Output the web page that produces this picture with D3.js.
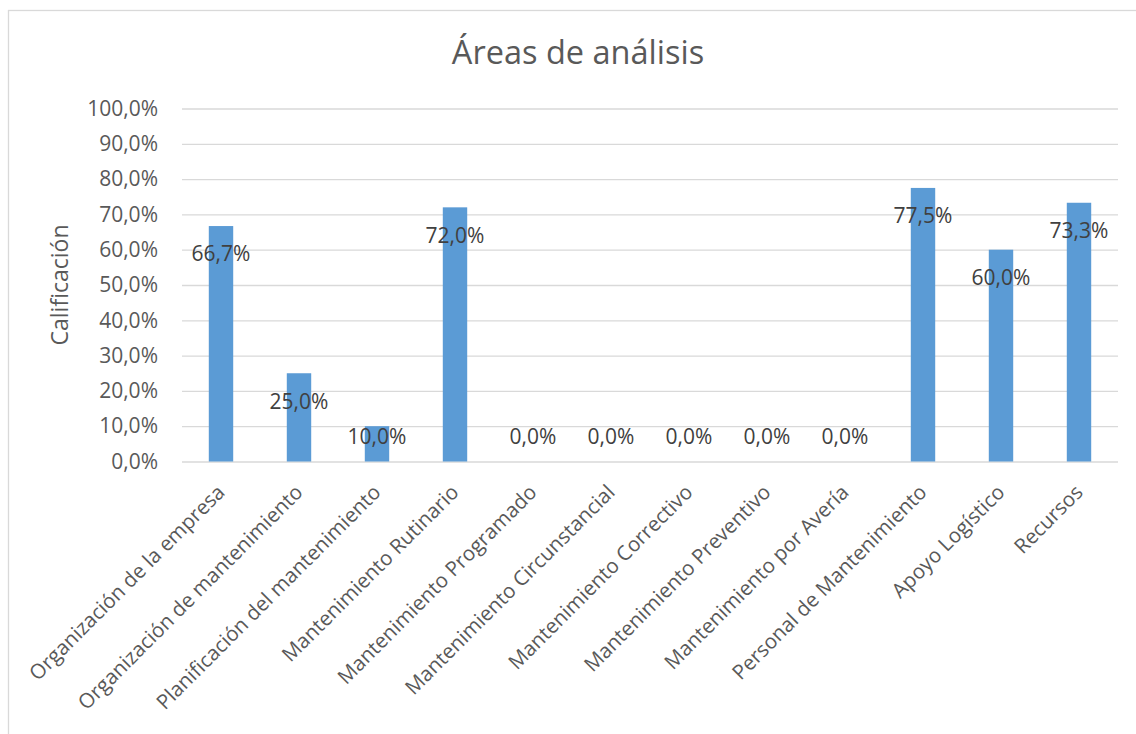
<!DOCTYPE html>
<html>
<head>
<meta charset="utf-8">
<script src="https://cdn.jsdelivr.net/npm/d3@7"></script>
<style>
  html, body { margin: 0; padding: 0; background: #fff; }
  svg { display: block; font-family: "Open Sans", sans-serif; }
</style>
</head>
<body>
<svg id="chart" width="1136" height="734"></svg>
<script>
// Areas evaluated and their score (fraction of 1)
const categories = [
  "Organización de la empresa",
  "Organización de mantenimiento",
  "Planificación del mantenimiento",
  "Mantenimiento Rutinario",
  "Mantenimiento Programado",
  "Mantenimiento Circunstancial",
  "Mantenimiento Correctivo",
  "Mantenimiento Preventivo",
  "Mantenimiento por Avería",
  "Personal de Mantenimiento",
  "Apoyo Logístico",
  "Recursos"
];
const scores = [0.667, 0.25, 0.10, 0.72, 0, 0, 0, 0, 0, 0.775, 0.60, 0.733];
const yTicks = [0, 0.1, 0.2, 0.3, 0.4, 0.5, 0.6, 0.7, 0.8, 0.9, 1.0];
const chartTitle = "Áreas de análisis";
const yTitle = "Calificación";

const svg = d3.select("#chart");
const W = 1136, H = 734;
const plot = { left: 182, right: 1118, top: 108.5, bottom: 461.5 };

// outer chart frame
svg.append("rect")
  .attr("x", 8.5).attr("y", 10.5)
  .attr("width", W + 10).attr("height", H + 10)
  .attr("fill", "#fff").attr("stroke", "#d9d9d9").attr("stroke-width", 1.3);

const x = d3.scaleBand().domain(categories).range([plot.left, plot.right]).padding(0);
const y = d3.scaleLinear().domain([0, 1]).range([plot.bottom, plot.top]);
const fmt = v => (v * 100).toFixed(1).replace(".", ",") + "%";

// horizontal gridlines + y tick labels
const yAxis = d3.axisLeft(y).tickValues(yTicks).tickFormat(fmt)
  .tickSize(-(plot.right - plot.left)).tickPadding(24);
const gy = svg.append("g").attr("transform", `translate(${plot.left},0)`).call(yAxis);
gy.select(".domain").remove();
gy.selectAll(".tick line").attr("stroke", "#d9d9d9").attr("stroke-width", 1.3);
gy.selectAll(".tick text")
  .attr("fill", "#595959").attr("font-size", 21).attr("font-family", "Open Sans, sans-serif");

// bars
const barW = x.bandwidth() * 0.313;
svg.append("g").selectAll("rect").data(categories).join("rect")
  .attr("x", (d) => x(d) + x.bandwidth() / 2 - barW / 2)
  .attr("y", (d, i) => y(scores[i]))
  .attr("width", barW)
  .attr("height", (d, i) => y(0) - y(scores[i]))
  .attr("fill", "#5b9bd5");

// value labels, placed just inside the top of each bar
svg.append("g").selectAll("text").data(categories).join("text")
  .attr("x", (d) => x(d) + x.bandwidth() / 2)
  .attr("y", (d, i) => Math.min(y(scores[i]) + 28, y(0) - 25))
  .attr("dy", "0.35em")
  .attr("text-anchor", "middle")
  .attr("fill", "#404040")
  .attr("font-size", 21)
  .text((d, i) => fmt(scores[i]));

// rotated category labels
const xAxis = d3.axisBottom(x).tickSize(0).tickPadding(0);
const gx = svg.append("g").attr("transform", `translate(0,${plot.bottom})`).call(xAxis);
gx.select(".domain").remove();
gx.selectAll(".tick text")
  .attr("fill", "#595959").attr("font-size", 20.5).attr("font-family", "Open Sans, sans-serif")
  .attr("text-anchor", "end")
  .attr("dy", "0.35em")
  .attr("transform", "translate(0,27) rotate(-45)");

// title
svg.append("text")
  .attr("x", 578).attr("y", 53).attr("dy", "0.35em")
  .attr("text-anchor", "middle")
  .attr("fill", "#595959").attr("font-size", 32.5)
  .text(chartTitle);

// y-axis title
svg.append("text")
  .attr("transform", `translate(60,${(plot.top + plot.bottom) / 2}) rotate(-90)`)
  .attr("dy", "0.35em")
  .attr("text-anchor", "middle")
  .attr("fill", "#595959").attr("font-size", 23)
  .text(yTitle);
</script>
</body>
</html>
